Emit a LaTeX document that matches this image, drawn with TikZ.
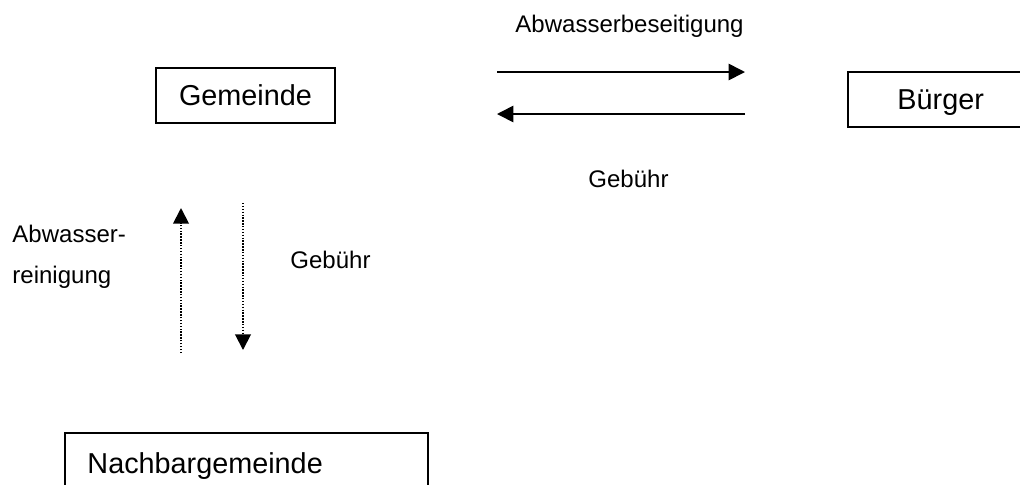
\documentclass[tikz,border=0pt]{standalone}
\usepackage{fontspec}
\setmainfont{Liberation Sans}
\usetikzlibrary{arrows.meta}
\begin{document}
\begin{tikzpicture}[x=0.41667pt,y=-0.41667pt,
  box/.style={draw, line width=0.7pt, inner sep=0pt},
  boxtext/.style={font=\fontsize{12}{14}\selectfont, inner sep=0pt, anchor=base west},
  lbl/.style={font=\fontsize{10}{12}\selectfont, inner sep=0pt, anchor=base west},
  solidarr/.style={line width=0.7pt, -{Triangle[length=6.8pt,width=6.8pt]}},
  dotarr/.style={line width=0.8pt, dash pattern=on 0.6pt off 0.6pt, -{Triangle[length=6.5pt,width=6.5pt]}}]
\useasboundingbox (0,0) rectangle (1020,484);
\clip (0,0) rectangle (1020,484);
% boxes
\node[box, font=\fontsize{12}{14}\selectfont, minimum width=74.58pt, minimum height=22.92pt] (gem) at (245.5,95.5) {Gemeinde};
\node[box, minimum width=77pt, minimum height=23pt] (buergerbox) at (940.5,99.5) {};
\node[boxtext] (buerger) at (897,109) {Bürger};
\node[box, minimum width=151.25pt, minimum height=32.08pt] (nachbox) at (246.5,471.5) {};
\node[boxtext] (nach) at (87,473) {Nachbargemeinde};
% horizontal arrows
\coordinate (a1s) at (497,72);
\coordinate (a1e) at (745,72);
\coordinate (a2s) at (745,114);
\coordinate (a2e) at (497,114);
\draw[solidarr] (a1s) -- (a1e);
\draw[solidarr] (a2s) -- (a2e);
% vertical dotted arrows
\coordinate (v1s) at (181,353);
\coordinate (v1e) at (181,208);
\coordinate (v2s) at (243,203);
\coordinate (v2e) at (243,350);
\draw[dotarr] (v1s) -- (v1e);
\draw[dotarr] (v2s) -- (v2e);
% labels
\node[lbl] (t1) at (515,32) {Abwasserbeseitigung};
\node[lbl] (t2) at (588,187) {Gebühr};
\node[lbl] (t3) at (12,242) {Abwasser-};
\node[lbl] (t4) at (12,283) {reinigung};
\node[lbl] (t5) at (290,268) {Gebühr};
\end{tikzpicture}
\end{document}
